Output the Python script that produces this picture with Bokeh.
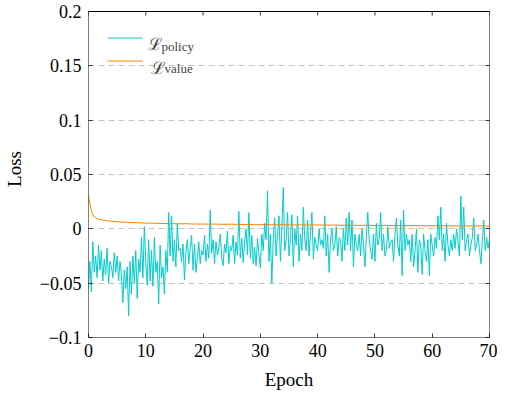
import numpy as np
from bokeh.plotting import figure
from bokeh.models import (LinearAxis, FixedTicker, CustomJSTickFormatter, Label,
                          BoxAnnotation, Range1d)
from bokeh.embed import file_html
from bokeh.resources import INLINE

# policy loss, in units of 1e-3, sampled 4 times per epoch (0 .. 70)
policy_milli = [
    -55, -30, -58, -12,   -40, -25, -45, -15,   -38, -20, -48, -28,   -42, -18, -50, -30,
    -35, -45, -22, -40,   -25, -48, -30, -42,   -68, -38, -55, -35,   -80, -30, -60, -25,
    -50, -20, -64, -28,   -40, -8, -45, 2,      -30, -52, -10, -48,   -20, -53, -8, -40,
    -30, -69, -15, -45,   -35, -60, -20, -40,   15, -25, 12, -30,     -10, -35, 5, -20,
    -18, -30, -14, -47,   -22, -10, -32, -17,   -6, -38, -14, -40,    -27, -12, -32, -20,
    -24, -6, -30, -14,    -27, 17, -22, -10,    -32, -12, -24, -17,   -5, -27, -34, -14,
    -22, -2, -32, -16,    -20, -6, -32, -12,    -24, 16, -27, -9,     -31, -13, 0, -24,
    15, -27, -6, -32,     -17, -34, -9, -23,    -36, -5, -20, 5,      -10, 35, -30, -5,
    -50, -10, 10, -25,    -5, 12, -30, 0,       38, -20, -10, 15,     -25, -10, 13, -35,
    0, -15, 12, -30,      -5, -20, 20, -10,     -20, 8, -25, -5,      15, -28, -8, -15,
    -20, 0, -15, -10,     -18, 12, -25, -5,     -40, -10, 0, -20,     -15, 2, -25, -8,
    -10, -30, 0, -20,     10, -15, 15, -20,     8, -35, -5, -15,      -20, -5, -25, 0,
    -15, -35, -8, 15,     -10, -20, -28, -5,    -30, 5, -15, -10,     15, -20, -5, -25,
    -20, 2, -18, -12,     -10, -30, -5, 10,     -15, -25, 8, -43,     17, -20, -5, -15,
    -10, -30, -5, -35,    -20, 0, -40, -10,     -15, -42, -5, -20,    -30, -10, -43, -5,
    -15, -25, -8, -18,    12, -10, 20, -20,     -5, -30, 5, -15,      -25, -10, -20, -5,
    -18, 0, -12, -25,     30, -10, 20, -20,     -10, -5, -25, -15,    -8, 10, -20, -15,
    -5, -20, -32, -10,    8, -20, -8, -18,      -10,
]
policy_epoch = np.linspace(0, 70, len(policy_milli))
policy_loss = np.array(policy_milli) / 1000.0

# value loss, in units of 1e-4
value_epoch = [0, 0.25, 0.5, 0.75, 1, 1.5, 2, 3, 4, 5, 6, 7, 8, 9, 10, 11, 12, 13, 14, 15,
               16, 17, 18, 19, 20, 21, 22, 23, 24, 25, 26, 27, 28, 29, 30, 31, 32, 33, 34, 35,
               36, 37, 38, 39, 40, 41, 42, 43, 44, 45, 46, 47, 48, 49, 50, 51, 52, 53, 54, 55,
               56, 57, 58, 59, 60, 61, 62, 63, 64, 65, 66, 67, 68, 69, 70]
value_e4 = [310, 230, 165, 128, 110, 95, 85, 76, 70, 66, 62, 60, 57, 55, 53, 52, 50, 49, 48, 47,
            46, 47, 45, 44, 44, 43, 44, 42, 42, 43, 41, 40, 41, 38, 38, 39, 37, 37, 38, 36,
            36, 37, 35, 35, 36, 34, 34, 35, 33, 33, 34, 32, 32, 33, 31, 31, 32, 30, 30, 31,
            29, 30, 29, 28, 29, 28, 28, 27, 28, 27, 27, 26, 27, 26, 26]
value_loss = np.array(value_e4) / 10000.0

x_ticks = [0, 10, 20, 30, 40, 50, 60, 70]
y_ticks = [-0.1, -0.05, 0, 0.05, 0.1, 0.15, 0.2]
grid_levels = [-0.05, 0, 0.05, 0.1, 0.15]

SERIF = "Liberation Serif"
POLICY_COLOR = "#00CCCC"
VALUE_COLOR = "#FF8000"
TICK_COLOR = "#333333"
X0, X1, Y0, Y1 = 0, 70, -0.1, 0.2
FW, FH = 401, 326          # size of the boxed axes area in px
PAD = 11                   # head room above the box for the top tick label
Y_TOP = Y1 + PAD * (Y1 - Y0) / FH

p = figure(frame_width=FW, frame_height=FH + PAD, x_range=Range1d(X0, X1),
           y_range=Range1d(Y0, Y_TOP), output_backend="svg", toolbar_location=None,
           min_border_left=80, min_border_right=8, min_border_top=0, min_border_bottom=0)

p.outline_line_color = None
p.background_fill_color = "white"
p.border_fill_color = "white"

p.xgrid.visible = False
p.ygrid.ticker = FixedTicker(ticks=grid_levels)
p.ygrid.grid_line_color = "#c4c4c4"
p.ygrid.grid_line_dash = "6 4"
p.ygrid.grid_line_width = 1

fmt = CustomJSTickFormatter(code="""
const s = String(Math.round(tick * 100) / 100);
return s.replace('-', '\u2212');
""")

for ax in (p.xaxis[0], p.yaxis[0]):
    ax.axis_line_color = None
    ax.major_tick_in = 4
    ax.major_tick_out = 0
    ax.major_tick_line_color = TICK_COLOR
    ax.minor_tick_line_color = None
    ax.major_label_text_font = SERIF
    ax.major_label_text_font_size = "18px"
    ax.major_label_text_color = "black"
    ax.axis_label_text_font = SERIF
    ax.axis_label_text_font_size = "19px"
    ax.axis_label_text_font_style = "normal"
    ax.axis_label_text_color = "black"

p.xaxis.ticker = FixedTicker(ticks=x_ticks)
p.yaxis.ticker = FixedTicker(ticks=y_ticks)
p.yaxis.formatter = fmt
p.xaxis.axis_label = "Epoch"
p.yaxis.axis_label = "Loss"
p.xaxis.major_label_standoff = 6
p.yaxis.major_label_standoff = 7
p.xaxis.axis_label_standoff = 9
p.yaxis.axis_label_standoff = 12

# mirrored inward ticks on the right side
right_axis = LinearAxis(ticker=FixedTicker(ticks=y_ticks), major_label_text_font_size="1px",
                        major_label_text_color=None, major_label_standoff=0,
                        axis_line_color=None, major_tick_in=4, major_tick_out=0,
                        major_tick_line_color=TICK_COLOR, minor_tick_line_color=None)
p.add_layout(right_axis, "right")

# axes box
p.add_layout(BoxAnnotation(left=X0, right=X1, bottom=Y0, top=Y1, fill_color=None,
                           line_color="black", line_width=1, line_alpha=1))

# mirrored inward ticks on the top edge (4 px long)
tick_len = 4 * (Y1 - Y0) / FH
p.segment(x0=x_ticks, x1=x_ticks, y0=[Y1] * len(x_ticks), y1=[Y1 - tick_len] * len(x_ticks),
          line_color=TICK_COLOR, line_width=1)

p.line(policy_epoch, policy_loss, line_color=POLICY_COLOR, line_width=1)
p.line(value_epoch, value_loss, line_color=VALUE_COLOR, line_width=1)

# legend (screen units relative to the frame, y measured from its bottom)
for color, dy in ((POLICY_COLOR, 26), (VALUE_COLOR, 49)):
    p.add_layout(BoxAnnotation(left=19, right=54, bottom=FH - dy - 1, top=FH - dy,
                               left_units="screen", right_units="screen",
                               bottom_units="screen", top_units="screen",
                               fill_color=color, fill_alpha=1, line_color=None))
p.add_layout(Label(x=59, y=FH - 32.5, x_units="screen", y_units="screen", text="ℒ",
                   text_font="DejaVu Serif", text_font_size="17px", text_baseline="alphabetic"))
p.add_layout(Label(x=73, y=FH - 34.5, x_units="screen", y_units="screen", text="policy",
                   text_font=SERIF, text_font_size="13px", text_baseline="alphabetic"))
p.add_layout(Label(x=62, y=FH - 56, x_units="screen", y_units="screen", text="ℒ",
                   text_font="DejaVu Serif", text_font_size="17px", text_baseline="alphabetic"))
p.add_layout(Label(x=76, y=FH - 57, x_units="screen", y_units="screen", text="value",
                   text_font=SERIF, text_font_size="13px", text_baseline="alphabetic"))

open("out.html", "w").write(file_html(p, INLINE))
